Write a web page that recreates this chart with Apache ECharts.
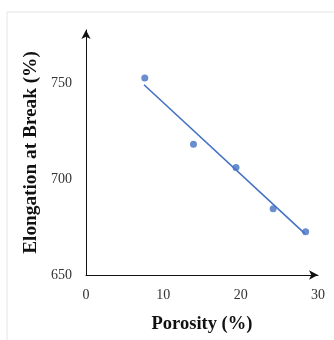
<!DOCTYPE html>
<html>
<head>
<meta charset="utf-8">
<script src="https://cdn.jsdelivr.net/npm/echarts@6/dist/echarts.min.js"></script>
<style>
  html, body { margin: 0; padding: 0; background: #fff; }
  #main { width: 334px; height: 340px; }
</style>
</head>
<body>
<div id="main"></div>
<script>
// Measured points (porosity %, elongation at break %)
var porosity = [7.6, 13.9, 19.4, 24.2, 28.4];
var elongation = [752.5, 718, 706, 684.5, 672.5];
// Linear trend line end points
var trendX = [7.5, 28.3];
var trendY = [749, 671.5];

document.addEventListener('DOMContentLoaded', function() {
  var myChart = echarts.init(document.getElementById('main'));

  var points = porosity.map(function(x, i) { return [x, elongation[i]]; });
  var trend = trendX.map(function(x, i) { return [x, trendY[i]]; });

  var serif = 'Liberation Serif';

  var option = {
    animation: false,
    textStyle: { fontFamily: serif },
    graphic: [{
      type: 'rect',
      shape: { x: 7, y: 12, width: 340, height: 340 },
      style: { fill: 'none', stroke: '#e4e4e4', lineWidth: 1 },
      silent: true
    }],
    grid: { left: 86, right: 16, top: 30, bottom: 65, outerBoundsMode: 'none' },
    xAxis: {
      type: 'value',
      min: 0,
      max: 30,
      interval: 10,
      name: 'Porosity (%)',
      nameLocation: 'middle',
      nameGap: 40,
      nameTextStyle: { fontFamily: serif, fontSize: 18.5, fontWeight: 'bold', color: '#111' },
      axisLine: { show: true, symbol: ['none', 'arrow'], symbolSize: [7, 9], lineStyle: { color: '#111', width: 1 } },
      axisTick: { show: false },
      splitLine: { show: false },
      axisLabel: { fontFamily: serif, fontSize: 14, color: '#333', margin: 13 }
    },
    yAxis: {
      type: 'value',
      min: 650,
      max: 777.5,
      interval: 50,
      name: 'Elongation at Break (%)',
      nameLocation: 'middle',
      nameGap: 39,
      nameTextStyle: { fontFamily: serif, fontSize: 19.3, fontWeight: 'bold', color: '#111' },
      axisLine: { show: true, symbol: ['none', 'arrow'], symbolSize: [7, 9], lineStyle: { color: '#111', width: 1 } },
      axisTick: { show: false },
      splitLine: { show: false },
      axisLabel: { fontFamily: serif, fontSize: 14, color: '#333', margin: 14, showMaxLabel: false }
    },
    series: [
      {
        name: 'Trend',
        type: 'line',
        data: trend,
        symbol: 'none',
        lineStyle: { color: '#4472C4', width: 1.6 },
        z: 2
      },
      {
        name: 'Elongation',
        type: 'scatter',
        data: points,
        symbolSize: 7,
        itemStyle: { color: '#4472C4' },
        z: 3
      }
    ]
  };

  myChart.setOption(option);
});
</script>
</body>
</html>
